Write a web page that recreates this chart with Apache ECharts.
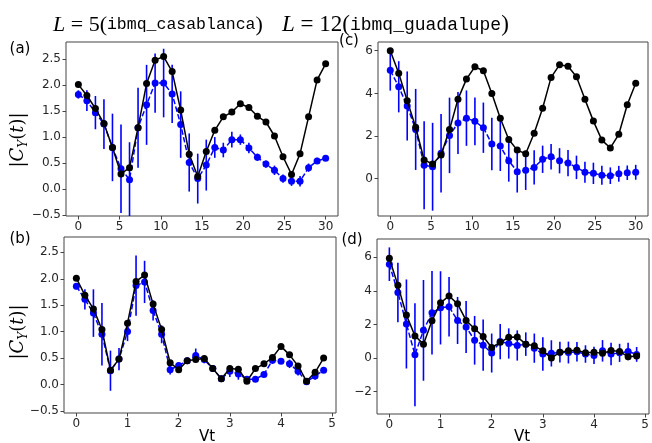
<!DOCTYPE html>
<html>
<head>
<meta charset="utf-8">
<script src="https://cdn.jsdelivr.net/npm/echarts@6/dist/echarts.min.js"></script>
<style>
  html, body { margin: 0; padding: 0; background: #fff; }
  #chart { width: 652px; height: 443px; }
</style>
</head>
<body>
<div id="chart"></div>
<script>
// Time grids: step index for the top row, Vt for the bottom row
function linspace(a, b, n) {
  const out = [];
  for (let i = 0; i < n; i++) out.push(a + (b - a) * i / (n - 1));
  return out;
}
const stepsTop = linspace(0, 30, 30);
const vtBottom = linspace(0, 29 / 6, 30);

// Tick labels
const yTicksAB = [-0.5, 0, 0.5, 1, 1.5, 2, 2.5];
const yTicksC = [0, 2, 4, 6];
const yTicksD = [-2, 0, 2, 4, 6];
const xTicksTop = [0, 5, 10, 15, 20, 25, 30];
const xTicksBottom = [0, 1, 2, 3, 4, 5];

// (a) L = 5, ibmq_casablanca, by step
const aExact = [2.01,1.80,1.55,1.26,0.80,0.29,0.41,1.18,2.03,2.48,2.55,2.26,1.52,0.67,0.24,0.72,1.13,1.39,1.48,1.64,1.57,1.40,1.29,1.02,0.62,0.28,0.68,1.39,2.10,2.41];
const aDevice = [1.82,1.70,1.47,1.25,0.80,0.39,0.18,1.18,1.62,2.04,2.04,1.83,1.24,0.51,0.20,0.46,0.80,0.75,0.95,0.95,0.79,0.61,0.48,0.36,0.20,0.15,0.15,0.41,0.54,0.59];
const aError = [0.08,0.20,0.32,0.48,0.65,0.85,0.72,0.77,0.77,0.57,0.66,0.56,0.64,0.56,0.48,0.49,0.20,0.14,0.15,0.10,0.10,0.07,0.07,0.09,0.08,0.09,0.10,0.08,0.06,0.05];

// (b) L = 5, ibmq_casablanca, by Vt
const bExact = [2.01,1.69,1.43,1.04,0.27,0.48,1.16,1.95,2.07,1.52,1.04,0.41,0.28,0.45,0.47,0.49,0.30,0.11,0.30,0.29,0.06,0.30,0.39,0.51,0.72,0.56,0.35,0.06,0.23,0.50];
const bDevice = [1.86,1.61,1.35,0.95,0.26,0.48,1.00,1.87,1.94,1.40,0.95,0.28,0.36,0.45,0.55,0.47,0.30,0.11,0.25,0.20,0.10,0.10,0.19,0.46,0.44,0.39,0.25,0.05,0.16,0.27];
const bError = [0.06,0.19,0.45,0.59,0.38,0.21,0.18,0.57,0.40,0.19,0.17,0.09,0.05,0.05,0.13,0.07,0.05,0.04,0.11,0.11,0.04,0.04,0.05,0.07,0.04,0.08,0.08,0.05,0.07,0.04];

// (c) L = 12, ibmq_guadalupe, by step
const cExact = [6.00,4.94,3.66,2.41,0.88,0.69,1.11,2.31,3.73,4.67,5.25,5.06,4.00,2.83,1.84,1.34,1.17,2.13,3.30,4.75,5.34,5.27,4.78,3.72,2.70,1.81,1.44,2.08,3.47,4.48];
const cDevice = [5.08,4.31,3.41,2.31,0.63,0.56,1.19,2.03,2.61,2.84,2.69,2.39,1.63,1.53,0.84,0.33,0.39,0.53,0.91,1.03,0.84,0.73,0.53,0.30,0.25,0.16,0.14,0.23,0.28,0.30];
const cError = [0.95,1.20,1.62,1.90,2.06,2.06,1.84,1.77,1.45,1.30,1.12,1.18,1.23,1.17,0.98,0.98,0.92,0.80,0.64,0.60,0.59,0.61,0.55,0.49,0.50,0.45,0.39,0.37,0.34,0.35];

// (d) L = 12, ibmq_guadalupe, by Vt
const dExact = [5.94,4.33,2.56,1.32,0.83,2.22,3.29,3.70,3.23,2.24,1.75,1.28,0.63,0.94,1.24,1.26,0.83,0.73,0.43,0.00,0.35,0.43,0.47,0.31,0.35,0.28,0.45,0.39,0.08,0.12];
const dDevice = [5.59,3.90,2.03,0.20,1.65,2.70,2.99,3.05,2.24,1.85,1.06,0.77,0.30,0.98,0.87,0.75,0.83,0.59,0.24,0.28,0.35,0.33,0.37,0.24,0.16,0.43,0.24,0.31,0.39,0.22];
const dError = [1.00,1.77,2.65,3.07,3.00,2.48,2.18,1.77,1.40,1.55,1.45,1.53,1.16,1.05,0.90,0.90,0.70,0.87,1.00,0.78,0.62,0.65,0.58,0.52,0.52,0.64,0.67,0.54,0.52,0.44];

const SPINE = '#444';
const TEXT = '#262626';
const BLUE = '#0000ff';

const panels = [
  { grid: { left: 66, top: 42, width: 272, height: 174 }, x: stepsTop, xr: [-1.5, 31.5], xt: xTicksTop, yr: [-0.52, 2.83], yt: yTicksAB, dec: 1, exact: aExact, dev: aDevice, err: aError },
  { grid: { left: 378, top: 42, width: 270, height: 174 }, x: stepsTop, xr: [-1.5, 31.5], xt: xTicksTop, yr: [-1.75, 6.41], yt: yTicksC, dec: 0, exact: cExact, dev: cDevice, err: cError },
  { grid: { left: 64, top: 237, width: 272, height: 176 }, x: vtBottom, xr: [-0.2417, 5.075], xt: xTicksBottom, yr: [-0.54, 2.79], yt: yTicksAB, dec: 1, exact: bExact, dev: bDevice, err: bError },
  { grid: { left: 377, top: 239, width: 272, height: 175 }, x: vtBottom, xr: [-0.2417, 5.075], xt: xTicksBottom, yr: [-3.33, 7.09], yt: yTicksD, dec: 0, exact: dExact, dev: dDevice, err: dError }
];

const fmt = (dec) => (v) => Number(v).toFixed(dec).replace('-', '\u2212');
const labelStyle = { color: TEXT, fontSize: 12, fontFamily: 'DejaVu Sans' };

const grids = [], xAxes = [], yAxes = [], series = [];
panels.forEach((p, i) => {
  grids.push(Object.assign({ show: true, borderColor: SPINE, borderWidth: 1, backgroundColor: 'transparent', containLabel: false }, p.grid));
  xAxes.push({
    type: 'value', gridIndex: i, min: p.xr[0], max: p.xr[1], position: 'bottom',
    axisLine: { show: false, onZero: false },
    splitLine: { show: false },
    axisTick: { show: true, inside: false, length: 3.5, lineStyle: { color: SPINE }, customValues: p.xt },
    axisLabel: Object.assign({ margin: 5, customValues: p.xt, formatter: fmt(0) }, labelStyle)
  });
  yAxes.push({
    type: 'value', gridIndex: i, min: p.yr[0], max: p.yr[1], position: 'left',
    axisLine: { show: false, onZero: false },
    splitLine: { show: false },
    axisTick: { show: true, inside: false, length: 3.5, lineStyle: { color: SPINE }, customValues: p.yt },
    axisLabel: Object.assign({ margin: 5, customValues: p.yt, formatter: fmt(p.dec) }, labelStyle)
  });
  // device error bars
  series.push({
    type: 'custom', xAxisIndex: i, yAxisIndex: i, clip: true, z: 2,
    data: p.x.map((x, k) => [x, p.dev[k] - p.err[k], p.dev[k] + p.err[k]]),
    encode: { x: 0, y: [1, 2] },
    renderItem: function (params, api) {
      const a = api.coord([api.value(0), api.value(1)]);
      const b = api.coord([api.value(0), api.value(2)]);
      return { type: 'line', shape: { x1: a[0], y1: a[1], x2: b[0], y2: b[1] }, style: { stroke: BLUE, lineWidth: 1.6 } };
    }
  });
  // device data (dashed blue)
  series.push({
    type: 'line', xAxisIndex: i, yAxisIndex: i, z: 3,
    data: p.x.map((x, k) => [x, p.dev[k]]),
    symbol: 'circle', symbolSize: 7, showSymbol: true,
    itemStyle: { color: BLUE },
    lineStyle: { color: BLUE, width: 1.5, type: [5.5, 2.4] }
  });
  // exact result (solid black)
  series.push({
    type: 'line', xAxisIndex: i, yAxisIndex: i, z: 4,
    data: p.x.map((x, k) => [x, p.exact[k]]),
    symbol: 'circle', symbolSize: 7, showSymbol: true,
    itemStyle: { color: '#000' },
    lineStyle: { color: '#000', width: 1.5 }
  });
});

const titleRichA = {
  it: { fontFamily: 'Liberation Serif', fontStyle: 'italic', fontSize: 22, fill: '#000' },
  rm: { fontFamily: 'Liberation Serif', fontSize: 22, fill: '#000' },
  tt: { fontFamily: 'Liberation Mono', fontSize: 16.5, fill: '#000' }
};
const titleRichC = {
  it: { fontFamily: 'Liberation Serif', fontStyle: 'italic', fontSize: 23, fill: '#000' },
  rm: { fontFamily: 'Liberation Serif', fontSize: 23, fill: '#000' },
  tt: { fontFamily: 'Liberation Mono', fontSize: 18, fill: '#000' }
};
const ylabRich = {
  b: { fontFamily: 'DejaVu Serif', fontSize: 18, fill: '#000', lineHeight: 24 },
  c: { fontFamily: 'DejaVu Serif', fontStyle: 'italic', fontSize: 18, fill: '#000', lineHeight: 24 },
  s: { fontFamily: 'DejaVu Serif', fontStyle: 'italic', fontSize: 12, fill: '#000', lineHeight: 14, verticalAlign: 'bottom' }
};
const ylabText = '{b||}{c|C}{s|Y}{b|(}{c|t}{b|)}{b||}';

function plainText(txt, x, y, size, extra) {
  return { type: 'text', x: x, y: y, silent: true,
    style: Object.assign({ text: txt, fontFamily: 'DejaVu Sans', fontSize: size, fill: '#000', align: 'center', verticalAlign: 'middle' }, extra || {}) };
}

const graphic = [
  { type: 'text', x: 53, y: 25, silent: true, style: { text: '{it|L}{rm| = 5(}{tt|ibmq_casablanca}{rm|)}', rich: titleRichA, align: 'left', verticalAlign: 'middle' } },
  { type: 'text', x: 282, y: 25, silent: true, style: { text: '{it|L}{rm| = 12(}{tt|ibmq_guadalupe}{rm|)}', rich: titleRichC, align: 'left', verticalAlign: 'middle' } },
  plainText('(a)', 20, 49, 15),
  plainText('(b)', 20, 239, 15),
  plainText('(c)', 349, 41, 15),
  plainText('(d)', 352, 240, 15),
  plainText('Vt', 207, 437, 15),
  plainText('Vt', 522, 437, 15),
  { type: 'text', x: 18, y: 140, rotation: Math.PI / 2, silent: true, style: { text: ylabText, rich: ylabRich, align: 'center', verticalAlign: 'middle' } },
  { type: 'text', x: 18, y: 332, rotation: Math.PI / 2, silent: true, style: { text: ylabText, rich: ylabRich, align: 'center', verticalAlign: 'middle' } }
];

const chart = echarts.init(document.getElementById('chart'), null, { renderer: 'canvas' });
chart.setOption({
  animation: false,
  backgroundColor: '#fff',
  grid: grids,
  xAxis: xAxes,
  yAxis: yAxes,
  series: series,
  graphic: graphic
});
</script>
</body>
</html>
